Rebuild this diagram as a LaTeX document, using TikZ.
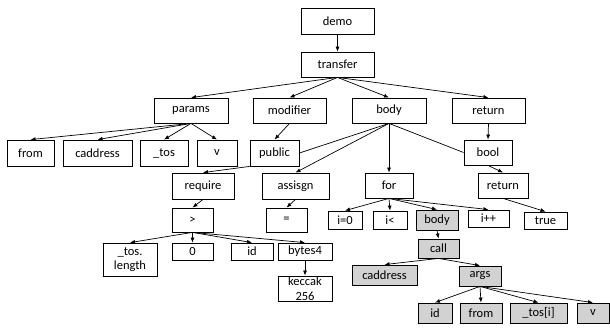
\documentclass[tikz,border=0pt]{standalone}
\usepackage{fontspec}
\setmainfont{Carlito}
\usetikzlibrary{arrows.meta}

\tikzset{
  box/.style={draw,line width=0.8pt,inner sep=0pt,align=center,
    font=\fontsize{12.5}{14.5}\selectfont},
  grey/.style={box,fill=gray!35},
  edge/.style={line width=0.7pt,-{Latex[length=5pt,width=4pt]}},
  plain/.style={line width=0.7pt}
}

\begin{document}
\begin{tikzpicture}[x=1pt,y=-1pt]
\useasboundingbox (0,0) rectangle (610,327);
% top of the tree
\node[box,minimum width=73pt,minimum height=26pt] (demo) at (337.5,21) {demo};
\node[box,minimum width=73pt,minimum height=25pt] (transfer) at (337.5,64.5) {transfer};
\node[box,minimum width=74pt,minimum height=25pt] (params) at (191,110.5) {params};
\node[box,minimum width=73pt,minimum height=25pt] (modifier) at (289.5,110.5) {modifier};
\node[box,minimum width=74pt,minimum height=25pt] (bodyA) at (389,110.5) {body};
\node[box,minimum width=73pt,minimum height=25pt] (returnA) at (488.5,110.5) {return};
% params and modifier
\node[box,minimum width=47pt,minimum height=26pt] (fromA) at (30.5,153) {from};
\node[box,minimum width=69pt,minimum height=26pt] (caddressA) at (97.5,153) {caddress};
\node[box,minimum width=48pt,minimum height=26pt] (tosA) at (164,153) {\_tos};
\node[box,minimum width=40pt,minimum height=26pt] (vA) at (217,153) {v};
\node[box,minimum width=49pt,minimum height=26pt] (public) at (274.5,153) {public};
\node[box,minimum width=48pt,minimum height=25pt] (bool) at (488,152.5) {bool};
% statements
\node[box,minimum width=62pt,minimum height=26pt] (require) at (203,186) {require};
\node[box,minimum width=67pt,minimum height=26pt] (assisgn) at (295.5,186) {assisgn};
\node[box,minimum width=48pt,minimum height=25pt] (for) at (389,185.5) {for};
\node[box,minimum width=50pt,minimum height=25pt] (returnB) at (503,185.5) {return};
\node[box,minimum width=41pt,minimum height=24pt] (gt) at (192.5,220) {>};
\node[box,minimum width=41pt,minimum height=24pt] (eq) at (286.5,220) {=};
% for loop
\node[box,minimum width=34pt,minimum height=18pt] (izero) at (345,220) {i=0};
\node[box,minimum width=34pt,minimum height=18pt] (iless) at (390,220) {i<};
\node[grey,minimum width=42pt,minimum height=20pt] (bodyB) at (437,220) {body};
\node[box,minimum width=41pt,minimum height=17pt] (iinc) at (488.5,218.5) {i++};
\node[box,minimum width=43pt,minimum height=17pt] (true) at (545.5,220.5) {true};
\node[grey,minimum width=41pt,minimum height=19pt] (call) at (438.5,248.5) {call};
\node[grey,minimum width=65pt,minimum height=20pt] (caddressB) at (384.5,275) {caddress};
\node[grey,minimum width=42pt,minimum height=20pt] (args) at (480,276) {args};
\node[grey,minimum width=34pt,minimum height=20pt] (idB) at (435,313) {id};
\node[grey,minimum width=42pt,minimum height=20pt] (fromB) at (481,313) {from};
\node[grey,minimum width=57pt,minimum height=20pt] (tosi) at (538.5,313) {\_tos[i]};
\node[grey,minimum width=32pt,minimum height=20pt] (vB) at (593,313) {v};
% require operands
\node[box,minimum width=54pt,minimum height=33pt] (toslen) at (130,259.5) {\_tos.\\length};
\node[box,minimum width=41pt,minimum height=17pt] (zero) at (192.5,251.5) {0};
\node[box,minimum width=42pt,minimum height=17pt] (idA) at (252,251.5) {id};
\node[box,minimum width=54pt,minimum height=17pt] (bytes) at (305,251.5) {bytes4};
\node[box,minimum width=54pt,minimum height=25pt] (keccak) at (305,288.5) {keccak\\256};

% connectors
\foreach \a/\b in {demo/transfer,transfer/params,transfer/modifier,transfer/bodyA,
  transfer/returnA,params/fromA,params/caddressA,params/tosA,params/vA,
  modifier/public,bodyA/assisgn,bodyA/for,returnA/bool,bool/returnB,returnB/true,
  require/gt,assisgn/eq,gt/toslen,gt/zero,gt/idA,gt/bytes,bytes/keccak,
  for/izero,for/iless,for/bodyB,for/iinc,bodyB/call,call/caddressB,call/args,
  args/idB,args/fromB,args/tosi,args/vB}
  \draw[edge] (\a.south) -- (\b.north);
\draw[edge] (public.south west) -- (require.north);
\draw[plain] (bodyA.south) -- (public.east);
\draw[plain] (bodyA.south) -- (bool.west);
\end{tikzpicture}
\end{document}
